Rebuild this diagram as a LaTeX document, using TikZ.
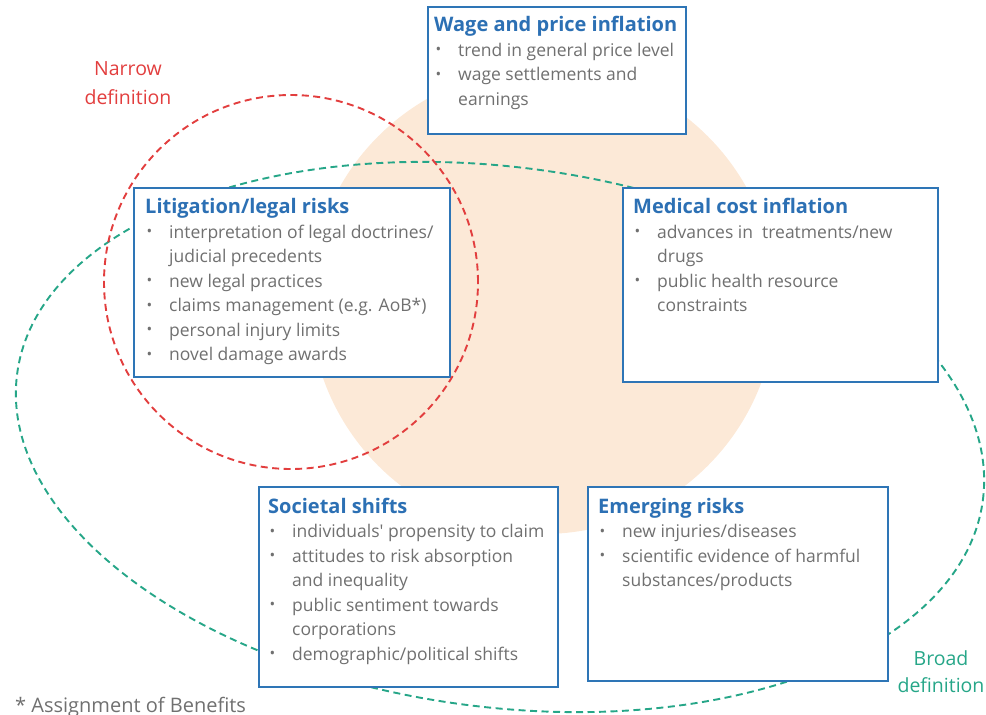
\documentclass[tikz,border=0pt]{standalone}
\usepackage{fontspec}
\setmainfont{Open Sans}
\newfontfamily\plainos{Open Sans}
\definecolor{boxblue}{RGB}{46,117,182}
\definecolor{titleblue}{RGB}{44,112,180}
\definecolor{bodygray}{RGB}{112,112,112}
\definecolor{redc}{RGB}{226,62,62}
\definecolor{greenc}{RGB}{38,166,136}
\definecolor{beige}{RGB}{252,233,215}
\newcommand\bl{\makebox[24pt][l]{\hspace{1.5pt}\raisebox{1.2pt}{\fontsize{15}{15}\selectfont •}}}
\begin{document}
\begin{tikzpicture}[x=1pt,y=-1pt,
  box/.style={draw=boxblue, line width=2.4pt, fill=white, inner sep=0pt, anchor=north west},
  ttl/.style={anchor=base west, inner sep=0pt, font=\fontsize{20}{24}\selectfont\bfseries, text=titleblue},
  txt/.style={anchor=base west, inner sep=0pt, font=\fontsize{17.5}{24}\selectfont, text=bodygray},
  lbl/.style={anchor=base, inner sep=0pt, font=\fontsize{19.5}{24}\selectfont},
  dashline/.style={line width=1.9pt, dash pattern=on 7pt off 4.5pt}]
\useasboundingbox (0,0) rectangle (986,715);
% background circle
\fill[beige] (543,301) circle[radius=233pt];
% broad definition ellipse
\draw[dashline, greenc, rotate around={-7.46:(500,437)}] (500,437) ellipse [x radius=487pt, y radius=270pt];
% boxes
\node[box, minimum width=258pt, minimum height=127pt] (wage) at (427,6) {};
\node[box, minimum width=316pt, minimum height=189pt] (lit) at (133,187) {};
\node[box, minimum width=315pt, minimum height=194pt] (med) at (622,187) {};
\node[box, minimum width=299pt, minimum height=200pt] (soc) at (258,486) {};
\node[box, minimum width=300pt, minimum height=194pt] (emer) at (587,486) {};
% narrow definition circle
\draw[dashline, redc] (291,282) circle[radius=187pt];
% Wage and price inflation
\node[ttl] (w0) at (434,31.5) {Wage and price inflation};
\node[txt] (w1) at (434,56) {\bl trend in general price level};
\node[txt] (w2) at (434,80.5) {\bl wage settlements and};
\node[txt] (w3) at (458,105) {earnings};
% Litigation
\node[ttl] (l0) at (145,213) {Litigation/legal risks};
\node[txt] (l1) at (145,238) {\bl interpretation of legal doctrines/};
\node[txt] (l2) at (169,262.5) {judicial precedents};
\node[txt] (l3) at (145,287) {\bl new legal practices};
\node[txt] (l4) at (145,311.5) {\bl claims management (e.g. AoB*)};
\node[txt] (l5) at (145,336) {\bl personal injury limits};
\node[txt] (l6) at (145,360.5) {\bl novel damage awards};
% Medical
\node[ttl] (m0) at (633,213) {Medical cost inflation};
\node[txt] (m1) at (633,238) {\bl advances in\ \ treatments/new};
\node[txt] (m2) at (657,262.5) {drugs};
\node[txt] (m3) at (633,287) {\bl public health resource};
\node[txt] (m4) at (657,311.5) {constraints};
% Societal
\node[ttl] (s0) at (268,513) {Societal shifts};
\node[txt] (s1) at (268,537.5) {\bl individuals{\plainos '} propensity to claim};
\node[txt] (s2) at (268,562) {\bl attitudes to risk absorption};
\node[txt] (s3) at (292,586.5) {and inequality};
\node[txt] (s4) at (268,611) {\bl public sentiment towards};
\node[txt] (s5) at (292,635.5) {corporations};
\node[txt] (s6) at (268,660) {\bl demographic/political shifts};
% Emerging
\node[ttl] (e0) at (598,513) {Emerging risks};
\node[txt] (e1) at (598,537.5) {\bl new injuries/diseases};
\node[txt] (e2) at (598,562) {\bl scientific evidence of harmful};
\node[txt] (e3) at (622,586.5) {substances/products};
% labels
\node[lbl, text=redc] (n1) at (128,75) {Narrow};
\node[lbl, text=redc] (n2) at (128,104) {definition};
\node[lbl, text=greenc] (b1) at (941,665) {Broad};
\node[lbl, text=greenc] (b2) at (941,692) {definition};
\node[txt, font=\fontsize{20}{24}\selectfont] (foot) at (15,712) {* Assignment of Benefits};
\end{tikzpicture}
\end{document}
